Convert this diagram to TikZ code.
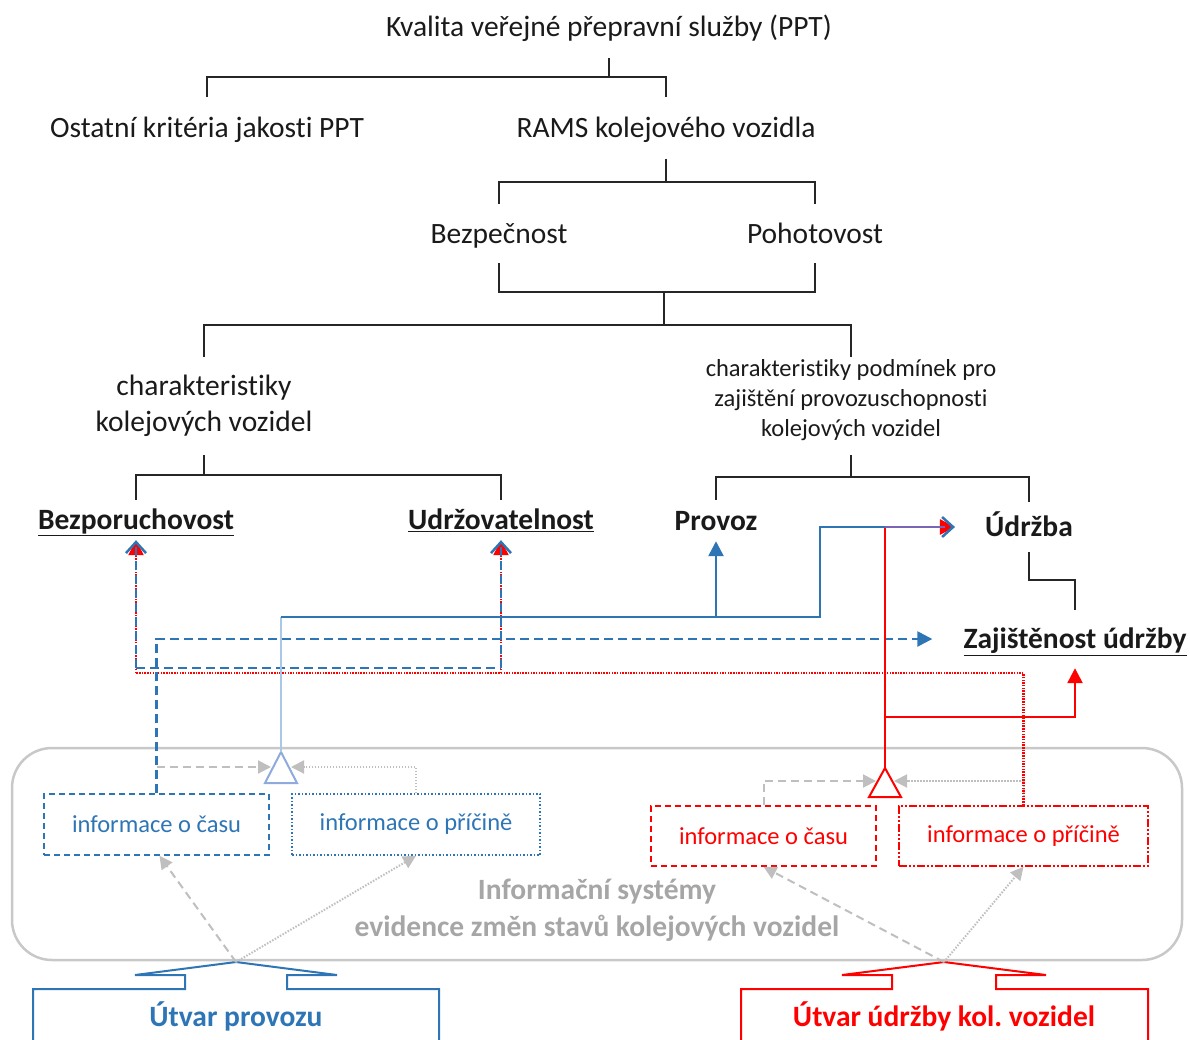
\documentclass[tikz,border=0pt]{standalone}
\usepackage{fontspec}
\setmainfont{Carlito}[Ligatures={NoCommon}]
\usetikzlibrary{arrows.meta,calc}
\definecolor{mblue}{HTML}{2E75B6}
\definecolor{lblue}{HTML}{A9C8E8}
\definecolor{tblue}{HTML}{8FAADC}
\definecolor{mred}{HTML}{FF0000}
\definecolor{lgray}{HTML}{BFBFBF}
\definecolor{bgray}{HTML}{C8C8C8}
\definecolor{tgray}{HTML}{A6A6A6}
\definecolor{tline}{HTML}{262626}
\definecolor{txt}{HTML}{1A1A1A}
\definecolor{purp}{HTML}{7A64B4}
\tikzset{
  tri/.tip={Triangle[length=15pt,width=15pt]},
  gtri/.tip={Triangle[length=13pt,width=13pt]},
  barb/.tip={Straight Barb[length=11pt,width=20pt,line width=2.5pt]},
}
\frenchspacing
\begin{document}
\begin{tikzpicture}[x=1pt,y=-1pt,
  lbl/.style={font=\fontsize{29.5}{36}\selectfont, text=txt, inner sep=0pt, text height=24pt, text depth=5pt},
  mlbl/.style={font=\fontsize{29.5}{36}\selectfont, text=txt, inner sep=0pt, align=center},
  slbl/.style={font=\fontsize{24.5}{30}\selectfont, text=txt, inner sep=0pt, align=center},
  blbl/.style={font=\fontsize{29.5}{36}\selectfont\bfseries, text=txt, inner sep=0pt, text height=24pt, text depth=5pt},
  tree/.style={draw=tline, line width=1.6pt},
  bsolid/.style={draw=mblue, line width=2.5pt},
  bdash/.style={draw=mblue, line width=2.5pt, dash pattern=on 9pt off 5pt},
  rsolid/.style={draw=mred, line width=2.5pt},
  rdot/.style={draw=mred, line width=2.5pt, dash pattern=on 1.5pt off 1.2pt},
  gdash/.style={draw=lgray, line width=2pt, dash pattern=on 8pt off 5pt},
  gdot/.style={draw=lgray, line width=2pt, dash pattern=on 1.5pt off 1.5pt},
  infobox/.style={minimum height=60pt, inner sep=0pt, font=\fontsize{24.5}{30}\selectfont, line width=1.5pt},
  deptxt/.style={font=\fontsize{29.5}{36}\selectfont\bfseries, inner sep=0pt},
]
\useasboundingbox (0,0) rectangle (1190,1039);
\clip (0,0) rectangle (1190,1039);

% ---------- tree labels ----------
\node[lbl, minimum height=62pt] (kval) at (609,27) {Kvalita veřejné přepravní služby (PPT)};
\node[lbl, minimum height=61pt] (ost) at (207,128) {Ostatní kritéria jakosti PPT};
\node[lbl, minimum height=61pt] (rams) at (666,128) {RAMS kolejového vozidla};
\node[lbl, minimum height=59pt] (bezp) at (499,233.5) {Bezpečnost};
\node[lbl, minimum height=59pt] (poho) at (815,233.5) {Pohotovost};
\node[mlbl, minimum height=98pt] (chk) at (204,406) {charakteristiky\\kolejových vozidel};
\node[slbl, minimum height=86pt] (chp) at (851,400) {charakteristiky podmínek pro\\zajištění provozuschopnosti\\kolejových vozidel};
\node[blbl, minimum height=40pt] (bez) at (136,520) {\underline{Bezporuchovost}};
\node[blbl, minimum height=40pt] (udz) at (501,520) {\underline{Udržovatelnost}};
\node[blbl, minimum height=41pt] (prov) at (716,520.5) {Provoz};
\node[blbl, minimum height=50pt, inner xsep=30pt] (udr) at (1029,527) {Údržba};
\node[blbl, minimum height=58pt, inner xsep=31pt] (zaj) at (1075,639) {\underline{Zajištěnost údržby}};

% ---------- tree lines ----------
\draw[tree] (kval.south) -- ++(0,19) coordinate (j1);
\draw[tree] (ost.north) |- (j1) -| (rams.north);
\draw[tree] (rams.south) -- ++(0,23) coordinate (j2);
\draw[tree] (bezp.north) |- (j2) -| (poho.north);
\draw[tree] (bezp.south) -- ++(0,29) -| (poho.south);
\coordinate (j3) at (664,292);
\draw[tree] (j3) -- ++(0,33) coordinate (j4);
\draw[tree] (chk.north) |- (j4) -| (chp.north);
\draw[tree] (chk.south) -- ++(0,20) coordinate (j5);
\draw[tree] (bez.north) |- (j5) -| (udz.north);
\draw[tree] ([yshift=-12pt]chp.south) -- ++(0,22) coordinate (j6);
\draw[tree] (prov.north) |- (j6) -| (udr.north);
\draw[tree] (udr.south) -- ++(0,28) -| (zaj.north);

% ---------- information system area ----------
\node[draw=bgray, line width=2.5pt, rounded corners=40pt, minimum width=1170pt, minimum height=212pt, inner sep=0pt] (isys) at (597,854) {};
\node[font=\fontsize{29.5}{37}\selectfont\bfseries, text=tgray, align=center, inner sep=0pt] (isyst) at (597,910) {Informační systémy\\evidence změn stavů kolejových vozidel};

\node[infobox, draw=mblue, dash pattern=on 6pt off 4pt, text=mblue, minimum width=225pt, minimum height=61pt] (bcas) at (156.5,824.5) {informace o času};
\node[infobox, draw=mblue, dash pattern=on 1.5pt off 2pt, text=mblue, minimum width=248pt, minimum height=61pt] (bpric) at (416,824.5) {informace o příčině};
\node[infobox, draw=mred, dash pattern=on 6pt off 4pt, text=mred, minimum width=225pt, minimum height=60pt] (rcas) at (763.5,836) {informace o času};
\node[infobox, draw=mred, dash pattern=on 8pt off 2pt on 2pt off 2pt on 2pt off 2pt, text=mred, minimum width=249pt, minimum height=60pt] (rpric) at (1023.5,836) {informace o příčině};

% triangles
\draw[tblue, line width=2pt] (281,752) coordinate (btop) -- (265,783) -- (297,783) -- cycle;
\coordinate (btl) at (271,767);
\coordinate (btr) at (291,767);
\draw[mred, line width=2pt] (885,768) coordinate (rtop) -- (869,797) -- (901,797) -- cycle;
\coordinate (rtl) at (876,781);
\coordinate (rtr) at (894,781);

% departments
\draw[mblue, line width=2pt] (33,1050) -- (33,989) -- (185,989) -- (185,975) -- (135,975) -- (236,962) coordinate (bap) -- (337,975) -- (287,975) -- (287,989) -- (439,989) -- (439,1050);
\node[deptxt, text=mblue] (butv) at (236,1016) {Útvar provozu};
\draw[mred, line width=2pt] (741,1050) -- (741,989) -- (892,989) -- (892,975) -- (842,975) -- (944,962) coordinate (rap) -- (1046,975) -- (996,975) -- (996,989) -- (1148,989) -- (1148,1050);
\node[deptxt, text=mred] (rutv) at (944,1016) {Útvar údržby kol. vozidel};

% gray connectors
\draw[gdash, -gtri] (bcas.north |- btl) -- (btl);
\draw[gdot, -gtri] (bpric.north) |- (btr);
\draw[gdash, -gtri] (rcas.north) |- (rtl);
\draw[gdot, -gtri] (rpric.north) |- (rtr);
\draw[gdash, -gtri] (bap) -- ([xshift=3pt]bcas.south);
\draw[gdot, -gtri] (bap) -- (bpric.south);
\draw[gdash, -gtri] (rap) -- (rcas.south);
\draw[gdot, -gtri] (rap) -- (rpric.south);

% red dotted
\coordinate (rd1) at (136,673);
\coordinate (rd2) at (501,673);
\draw[rdot] (rpric.north) |- (rd1);
\draw[rdot, -tri] (rd1) -- (bez.south);
\draw[rdot, -tri] (rd2) -- (udz.south);

% blue dashed
\coordinate (bd1) at (136,668);
\coordinate (bd2) at (501,668);
\draw[bdash] (bd1) -- (bd2);
\draw[bdash, -barb] (bd1) -- (bez.south);
\draw[bdash, -barb] (bd2) -- (udz.south);
\draw[bdash, -tri] (bcas.north) |- (zaj.west);

% red solid
\coordinate (rj1) at (885,527);
\coordinate (rj2) at (885,717);
\draw[rsolid, -tri] (rtop) -- (rj1) -- (udr.west);
\draw[rsolid, -tri] (rj2) -| (zaj.south);

% blue solid
\coordinate (bj1) at (281,617);
\coordinate (bj2) at (820,617);
\coordinate (bj3) at (820,527);
\draw[lblue, line width=2pt] (btop) -- (bj1);
\draw[bsolid] (bj1) -- (bj2) -- (bj3) -- (rj1);
\draw[purp, line width=2.5pt] (rj1) -- ([xshift=-10pt]udr.west);
\draw[bsolid, -barb] ([xshift=-3pt]udr.west) -- (udr.west);
\draw[bsolid, -tri] (prov.south |- bj1) -- (prov.south);
\end{tikzpicture}
\end{document}
